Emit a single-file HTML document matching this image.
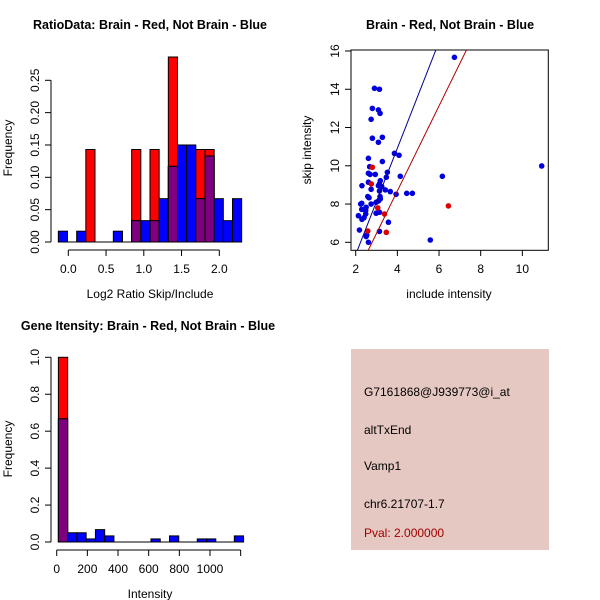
<!DOCTYPE html>
<html><head><meta charset="utf-8"><style>
body{margin:0;background:#fff}
svg{display:block;font-family:"Liberation Sans",sans-serif}
</style></head><body>
<svg id="s" width="600" height="600" xmlns="http://www.w3.org/2000/svg"></svg>
<script>
// Panel 1 data: log2 ratio histogram
const ratioBinStart = -0.132, ratioBinWidth = 0.1214;
const ratioBlue = [0.0167,0,0.0167,0,0,0,0.0167,0,0.033,0.033,0.033,0.067,0.117,0.15,0.15,0.067,0.133,0.067,0.033,0.067];
const ratioRed  = [0,0,0,0.143,0,0,0,0,0.143,0,0.143,0,0.286,0,0,0.143,0.143,0,0,0];
const ratioXTicks = [0,0.5,1.0,1.5,2.0];
const ratioXLabels = ["0.0","0.5","1.0","1.5","2.0"];
const ratioYTicks = [0,0.05,0.10,0.15,0.20,0.25];
const ratioYLabels = ["0.00","0.05","0.10","0.15","0.20","0.25"];
// Panel 2 data: scatter
const blueX = [6.74,2.9,3.14,2.8,3.09,3.17,2.74,2.8,3.28,3.09,3.86,4.08,2.61,3.28,2.67,10.93,3.52,2.61,2.69,2.94,4.14,6.16,3.47,3.18,2.61,3.14,3.09,2.3,3.25,2.74,3.14,3.42,3.66,3.94,4.45,4.72,2.58,2.64,3.17,3.18,3.09,2.98,2.24,2.74,2.29,2.5,2.29,2.48,3.14,2.98,2.48,2.13,2.4,2.3,3.57,2.18,3.14,2.53,2.5,2.61,5.58];
const blueY = [15.67,14.05,14.0,13.0,12.92,12.74,12.43,11.44,11.49,11.23,10.65,10.55,10.39,10.22,9.95,9.99,9.66,9.61,9.55,9.55,9.45,9.45,9.4,9.22,9.14,9.05,8.96,8.96,8.91,8.77,8.68,8.74,8.65,8.51,8.56,8.56,8.39,8.33,8.39,8.27,8.16,8.09,8.0,8.0,8.04,7.83,7.72,7.66,7.57,7.52,7.48,7.39,7.29,7.2,7.05,6.64,6.57,6.38,6.3,6.0,6.12];
const redX = [2.8,2.75,3.06,3.38,2.58,3.47,6.45];
const redY = [9.92,9.05,7.8,7.48,6.59,6.52,7.9];
const blueFit = [2.78, 2.08, 5.58]; // slope, x0, y0
const redFit = [2.22, 2.6, 5.58];
const scXTicks = [2,4,6,8,10];
const scYTicks = [6,8,10,12,14,16];
// Panel 3 data: intensity histogram
const intBinStart = 11, intBinWidth = 60.4;
const intBlue = [0.667,0.05,0.05,0.0167,0.067,0.033,0,0,0,0,0.0167,0,0.033,0,0,0.0167,0.0167,0,0,0.033];
const intRed  = [1.0,0,0,0,0,0,0,0,0,0,0,0,0,0,0,0,0,0,0,0];
const intXTicks = [0,200,400,600,800,1000,1200];
const intXLabels = ["0","200","400","600","800","1000",""];
const intYTicks = [0,0.2,0.4,0.6,0.8,1.0];
const intYLabels = ["0.0","0.2","0.4","0.6","0.8","1.0"];

const S=document.getElementById('s');const NS="http://www.w3.org/2000/svg";
function mk(t,a,txt){const e=document.createElementNS(NS,t);for(const k in a)e.setAttribute(k,a[k]);if(txt!=null)e.textContent=txt;S.appendChild(e);return e;}

function hist(o){
  const sx=v=>o.x0+(v-o.xv0)*o.xk, sy=v=>o.y0-v*o.yk;
  const w=o.bw;
  for(let i=0;i<o.blue.length;i++){
    const xl=sx(o.bs+i*w), xr=sx(o.bs+(i+1)*w);
    const r=o.red[i], b=o.blue[i], m=Math.min(r,b), top=Math.max(r,b);
    if(top<=0) continue;
    if(r>0){const e=mk('rect',{x:xl,y:sy(r),width:xr-xl,height:sy(0)-sy(r),fill:'#ff0000',stroke:'#000','stroke-width':1});
      }
    if(b>0){const e=mk('rect',{x:xl,y:sy(b),width:xr-xl,height:sy(0)-sy(b),fill:'#0000ff',stroke:'#000','stroke-width':1});
      }
    if(m>0){const e=mk('rect',{x:xl,y:sy(m),width:xr-xl,height:sy(0)-sy(m),fill:'#7f007f',stroke:'#000','stroke-width':1});
      }
  }
  const bl=mk('line',{x1:sx(o.bs),x2:sx(o.bs+o.blue.length*w),y1:sy(0),y2:sy(0),stroke:'#000'});
  
  const xa=o.xt;const ay=o.axY;
  const xl=mk('line',{x1:sx(xa[0]),x2:sx(xa[xa.length-1]),y1:ay,y2:ay,stroke:'#000'});
  
  xa.forEach((v,i)=>{mk('line',{x1:sx(v),x2:sx(v),y1:ay,y2:ay+6,stroke:'#000'});
    const t=mk('text',{x:sx(v),y:ay+23,'font-size':12,'text-anchor':'middle'},o.xl[i]);
    });
  const ya=o.yt;const ax=o.axX;
  const yl=mk('line',{x1:ax,x2:ax,y1:sy(ya[0]),y2:sy(ya[ya.length-1]),stroke:'#000'});
  
  ya.forEach((v,i)=>{mk('line',{x1:ax,x2:ax-6,y1:sy(v),y2:sy(v),stroke:'#000'});
    const t=mk('text',{x:ax-12,y:sy(v),'font-size':12,'text-anchor':'middle',transform:`rotate(-90 ${ax-12} ${sy(v)})`},o.yl[i]);
    });
}
hist({x0:68.3,xv0:0,xk:75.5,y0:242,yk:646.8,bs:ratioBinStart,bw:ratioBinWidth,blue:ratioBlue,red:ratioRed,xt:ratioXTicks,xl:ratioXLabels,yt:ratioYTicks,yl:ratioYLabels,axY:250,axX:51});
hist({x0:56.7,xv0:0,xk:0.1533,y0:542,yk:184.7,bs:intBinStart,bw:intBinWidth,blue:intBlue,red:intRed,xt:intXTicks,xl:intXLabels,yt:intYTicks,yl:intYLabels,axY:550,axX:51});

// scatter
const px=v=>355.7+(v-2)*20.83, py=v=>242.3-(v-6)*19.13;
mk('defs',{}).innerHTML='<clipPath id="c"><rect x="351" y="50" width="197" height="200"/></clipPath>';
const box=mk('rect',{x:351,y:50,width:197.3,height:200.3,fill:'none',stroke:'#000'});

blueX.forEach((x,i)=>{const c=mk('circle',{cx:px(x),cy:py(blueY[i]),r:2.8,fill:'#0000dd'});
  });
redX.forEach((x,i)=>{const c=mk('circle',{cx:px(x),cy:py(redY[i]),r:2.8,fill:'#dd0000'});
  });
function fit(f,col,name){const [k,x0,y0]=f;const xa=1.5,xb=12;
  const l=mk('line',{x1:px(xa),y1:py(y0+k*(xa-x0)),x2:px(xb),y2:py(y0+k*(xb-x0)),stroke:col,'clip-path':'url(#c)'});
  }
fit(blueFit,'#00008b','blue-fit-line');fit(redFit,'#b00000','red-fit-line');
scXTicks.forEach(v=>{mk('line',{x1:px(v),x2:px(v),y1:250,y2:256,stroke:'#000'});
  const t=mk('text',{x:px(v),y:273,'font-size':12,'text-anchor':'middle'},String(v));
  });
scYTicks.forEach(v=>{mk('line',{x1:351,x2:345,y1:py(v),y2:py(v),stroke:'#000'});
  const t=mk('text',{x:339,y:py(v),'font-size':12,'text-anchor':'middle',transform:`rotate(-90 339 ${py(v)})`},String(v));
  });

// titles & labels
function T(x,y,s,txt,name,extra){const a=Object.assign({x:x,y:y,'font-size':s,'text-anchor':'middle'},extra||{});const t=mk('text',a,txt);}
T(150,29,12.5,'RatioData: Brain - Red, Not Brain - Blue','ratio-title',{'font-weight':'bold'});
T(450,29,12.5,'Brain - Red, Not Brain - Blue','scatter-title',{'font-weight':'bold'});
T(148,330,12.5,'Gene Itensity: Brain - Red, Not Brain - Blue','intensity-title',{'font-weight':'bold'});
T(150,298,12,'Log2 Ratio Skip/Include','ratio-x-title');
T(449,298,12,'include intensity','scatter-x-title');
T(150,598,12,'Intensity','intensity-x-title');
T(12,148,12,'Frequency','ratio-y-title',{transform:'rotate(-90 12 148)'});
T(311,150,12,'skip intensity','scatter-y-title',{transform:'rotate(-90 311 150)'});
T(12,449,12,'Frequency','intensity-y-title',{transform:'rotate(-90 12 449)'});

// info panel
const ip=mk('rect',{x:351,y:349,width:198,height:201,fill:'#e6c8c2'});

[['G7161868@J939773@i_at',396,'#000','probe-id'],['altTxEnd',434,'#000','event-type'],['Vamp1',470,'#000','gene-name'],['chr6.21707-1.7',508,'#000','location'],['Pval: 2.000000',537,'#a00000','pval']].forEach(r=>{
  const t=mk('text',{x:364,y:r[1],'font-size':12,fill:r[2]},r[0]);
  });
</script>
</body></html>
